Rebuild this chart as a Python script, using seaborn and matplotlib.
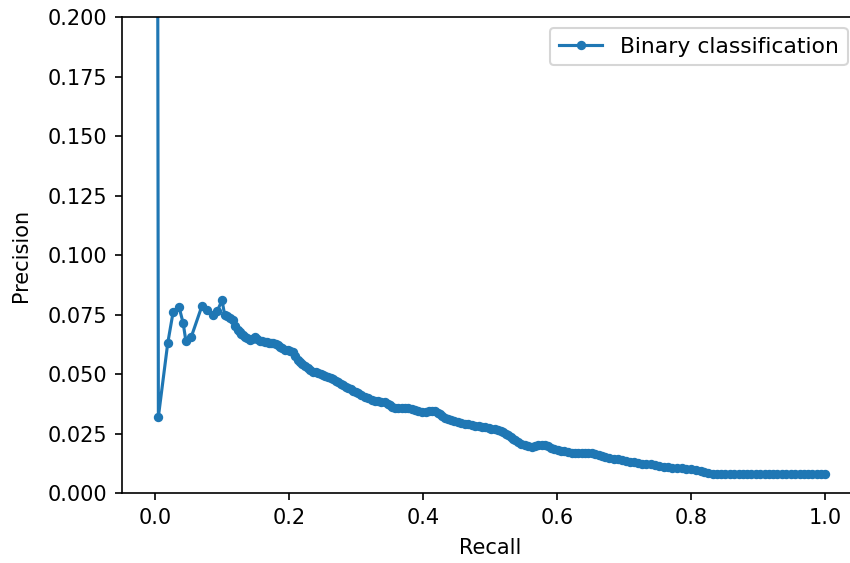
# Precision-recall curve for the binary classifier
import matplotlib
matplotlib.use('Agg')
import matplotlib.pyplot as plt
import seaborn as sns
import pandas as pd

# values
recall = [
    0.000, 0.005, 0.019, 0.027, 0.036, 0.042, 0.046, 0.054, 0.070, 0.078,
    0.087, 0.093, 0.100, 0.104, 0.108, 0.112,
    0.116, 0.120, 0.124, 0.127, 0.129, 0.132, 0.134, 0.138, 0.142, 0.145,
    0.149, 0.152, 0.156, 0.160, 0.164, 0.167, 0.170, 0.173, 0.176, 0.180,
    0.183, 0.187, 0.190, 0.194, 0.198, 0.202, 0.206, 0.209, 0.213, 0.217,
    0.220, 0.224, 0.228, 0.232, 0.236, 0.240, 0.243, 0.247, 0.250, 0.254,
    0.258, 0.262, 0.266, 0.270, 0.273, 0.277, 0.281, 0.285, 0.288, 0.292,
    0.296, 0.300, 0.303, 0.308, 0.313, 0.318, 0.324, 0.328, 0.333, 0.338,
    0.343, 0.347, 0.350, 0.354, 0.358, 0.363, 0.368, 0.373, 0.378, 0.383,
    0.388, 0.393, 0.399, 0.404, 0.409, 0.414, 0.418, 0.422, 0.425, 0.429,
    0.433, 0.438, 0.442, 0.447, 0.452, 0.457, 0.462, 0.467, 0.473, 0.478,
    0.483, 0.488, 0.493, 0.498, 0.502, 0.507, 0.512, 0.516, 0.520, 0.524,
    0.527, 0.531, 0.535, 0.538, 0.542, 0.547, 0.552, 0.557, 0.563, 0.567,
    0.572, 0.577, 0.582, 0.587, 0.591, 0.596, 0.601, 0.606, 0.611, 0.616,
    0.622, 0.627, 0.632, 0.637, 0.642, 0.647, 0.652, 0.657, 0.662, 0.667,
    0.672, 0.678, 0.685, 0.691, 0.697, 0.703, 0.709, 0.715, 0.721, 0.727,
    0.733, 0.740, 0.746, 0.752, 0.759, 0.765, 0.772, 0.779, 0.786, 0.793,
    0.800, 0.807, 0.815, 0.820, 0.826, 0.833, 0.839, 0.845, 0.851, 0.858,
    0.864, 0.871, 0.877, 0.884, 0.890, 0.897, 0.903, 0.910, 0.916, 0.923,
    0.929, 0.936, 0.942, 0.949, 0.955, 0.962, 0.968, 0.975, 0.981, 0.988,
    0.994, 1.000,
]
precision = [
    1.0000, 0.0320, 0.0630, 0.0760, 0.0780, 0.0714, 0.0640, 0.0655, 0.0786, 0.0770,
    0.0748, 0.0765, 0.0810, 0.0748, 0.0742, 0.0735,
    0.0727, 0.0700, 0.0685, 0.0676, 0.0670, 0.0662, 0.0655, 0.0650, 0.0643, 0.0648,
    0.0655, 0.0648, 0.0640, 0.0637, 0.0634, 0.0633, 0.0632, 0.0631, 0.0630, 0.0626,
    0.0620, 0.0614, 0.0609, 0.0603, 0.0600, 0.0596, 0.0592, 0.0575, 0.0559, 0.0549,
    0.0540, 0.0532, 0.0525, 0.0516, 0.0510, 0.0507, 0.0504, 0.0500, 0.0497, 0.0492,
    0.0487, 0.0483, 0.0478, 0.0472, 0.0466, 0.0459, 0.0452, 0.0446, 0.0441, 0.0435,
    0.0430, 0.0425, 0.0420, 0.0412, 0.0405, 0.0398, 0.0391, 0.0388, 0.0386, 0.0384,
    0.0382, 0.0375, 0.0368, 0.0362, 0.0357, 0.0358, 0.0359, 0.0358, 0.0357, 0.0352,
    0.0348, 0.0344, 0.0340, 0.0341, 0.0343, 0.0344, 0.0345, 0.0337, 0.0330, 0.0322,
    0.0315, 0.0311, 0.0307, 0.0302, 0.0298, 0.0295, 0.0292, 0.0289, 0.0286, 0.0283,
    0.0281, 0.0279, 0.0277, 0.0274, 0.0271, 0.0268, 0.0265, 0.0261, 0.0256, 0.0250,
    0.0244, 0.0236, 0.0228, 0.0221, 0.0214, 0.0208, 0.0202, 0.0197, 0.0193, 0.0197,
    0.0200, 0.0201, 0.0202, 0.0196, 0.0190, 0.0185, 0.0181, 0.0178, 0.0175, 0.0171,
    0.0168, 0.0168, 0.0168, 0.0167, 0.0167, 0.0168, 0.0168, 0.0163, 0.0158, 0.0154,
    0.0151, 0.0148, 0.0145, 0.0142, 0.0139, 0.0135, 0.0132, 0.0129, 0.0126, 0.0124,
    0.0122, 0.0120, 0.0118, 0.0114, 0.0111, 0.0108, 0.0105, 0.0105, 0.0104, 0.0102,
    0.0100, 0.0096, 0.0092, 0.0088, 0.0084, 0.0080, 0.0080, 0.0080, 0.0080, 0.0080,
    0.0080, 0.0080, 0.0080, 0.0080, 0.0080, 0.0080, 0.0080, 0.0080, 0.0080, 0.0080,
    0.0080, 0.0080, 0.0080, 0.0080, 0.0080, 0.0080, 0.0080, 0.0080, 0.0080, 0.0080,
    0.0080, 0.0080,
]

df = pd.DataFrame({'Recall': recall, 'Precision': precision})

fig = plt.figure(figsize=(851 / 150, 563 / 150), dpi=150)
# right spine falls just outside the picture, as in the reference
ax = fig.add_axes([0.1428, 0.1243, 0.866, 0.8455])

sns.lineplot(data=df, x='Recall', y='Precision', marker='.', markersize=7,
             color='#1f77b4', markeredgecolor='#1f77b4', markeredgewidth=1.0,
             linewidth=1.5, estimator=None, sort=False,
             label='Binary classification', ax=ax)

ax.set_ylim(0, 0.2)
ax.set_xlabel('Recall', labelpad=5)
ax.set_ylabel('Precision', labelpad=8)
ax.legend(loc='upper right', fontsize=10.5)

fig.savefig('out.png', dpi=150)
